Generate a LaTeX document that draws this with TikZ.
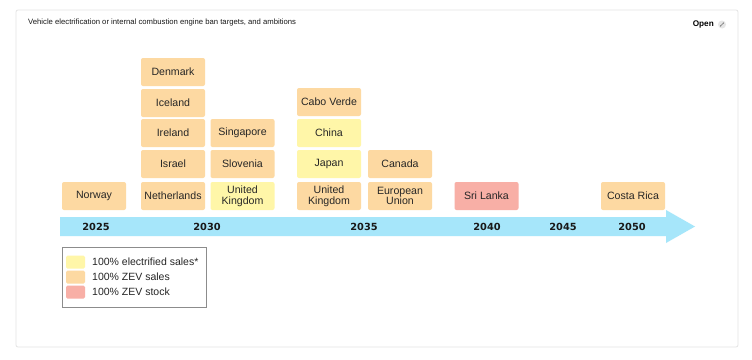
\documentclass[tikz,border=0pt]{standalone}
\usepackage{fontspec}
\setmainfont{Liberation Sans}
\newfontfamily\yearfont{DejaVu Sans}
\usetikzlibrary{arrows.meta}
\definecolor{zevsales}{HTML}{FDD9A2}
\definecolor{elecsales}{HTML}{FFF6A8}
\definecolor{zevstock}{HTML}{F8AFA6}
\definecolor{tlblue}{HTML}{A6E6FA}
\definecolor{cardline}{HTML}{E4E4E4}
\tikzset{
  cbox/.style={rectangle, rounded corners=2pt, minimum width=64pt, minimum height=28pt,
    inner sep=0pt, align=center, text=black!85, font=\fontsize{10.6}{10.7}\selectfont},
  orangebox/.style={cbox, fill=zevsales},
  yellowbox/.style={cbox, fill=elecsales},
  redbox/.style={cbox, fill=zevstock},
  yearlabel/.style={font=\yearfont\bfseries\fontsize{9.8}{12}\selectfont, text=black!90, inner sep=0pt},
  swatch/.style={rectangle, rounded corners=1.5pt, minimum width=19pt, minimum height=13pt, inner sep=0pt},
  legtext/.style={anchor=west, inner sep=0pt, font=\fontsize{10.5}{12}\selectfont, text=black!85}
}
\begin{document}
\begin{tikzpicture}[x=1pt,y=-1pt]
\useasboundingbox (0,0) rectangle (752,359);
\fill[white] (0,0) rectangle (752,359);
% card
\draw[cardline, line width=0.8pt, rounded corners=2pt] (16,10) rectangle (738,347);
% title
\node[anchor=west, inner sep=0pt, font=\fontsize{7.7}{9}\selectfont, text=black!90] (title) at (28,23)
  {Vehicle electrification or internal combustion engine ban targets, and ambitions};
\node[anchor=east, inner sep=0pt, font=\bfseries\fontsize{8.2}{9}\selectfont] (open) at (714,24.5) {Open};
\node[circle, fill=black!10, minimum size=8pt, inner sep=0pt] (openicon) at (722,24.5) {};
\draw[black!55, line width=0.5pt, {Stealth[length=1.3pt,width=1.3pt]}-{Stealth[length=1.3pt,width=1.3pt]}]
  ([shift={(-2,2)}]openicon.center) -- ([shift={(2,-2)}]openicon.center);
% timeline arrow
\fill[tlblue] (60,217) -- (666,217) -- (666,210) -- (695,226.5) -- (666,243) -- (666,236) -- (60,236) -- cycle;
\node[yearlabel] (y2025) at (96,226.5) {2025};
\node[yearlabel] (y2030) at (207,226.5) {2030};
\node[yearlabel] (y2035) at (364,226.5) {2035};
\node[yearlabel] (y2040) at (487,226.5) {2040};
\node[yearlabel] (y2045) at (563,226.5) {2045};
\node[yearlabel] (y2050) at (632,226.5) {2050};
% boxes
\node[orangebox] (norway) at (94,196) {Norway};
\node[orangebox] (netherlands) at (173,196) {Netherlands};
\node[orangebox] (israel) at (173,164) {Israel};
\node[orangebox] (ireland) at (173,133) {Ireland};
\node[orangebox] (iceland) at (173,103) {Iceland};
\node[orangebox] (denmark) at (173,72) {Denmark};
\node[yellowbox] (uka) at (242.5,196) {United\\Kingdom};
\node[orangebox] (slovenia) at (242.5,164) {Slovenia};
\node[orangebox] (singapore) at (242.5,133) {Singapore};
\node[orangebox] (ukb) at (329,196) {United\\Kingdom};
\node[yellowbox] (japan) at (329,164) {Japan};
\node[yellowbox] (china) at (329,133) {China};
\node[orangebox] (cabo) at (329,102) {Cabo Verde};
\node[orangebox] (eu) at (400,196) {European\\Union};
\node[orangebox] (canada) at (400,164) {Canada};
\node[redbox] (srilanka) at (486.5,196) {Sri Lanka};
\node[orangebox] (costarica) at (633,196) {Costa Rica};
% legend
\draw[black!45, line width=0.6pt] (62,247) rectangle (206,307);
\node[swatch, fill=elecsales] (sw1) at (75.5,262) {};
\node[swatch, fill=zevsales] (sw2) at (75.5,277) {};
\node[swatch, fill=zevstock] (sw3) at (75.5,292) {};
\node[legtext] (l1) at (92,262) {100\% electrified sales*};
\node[legtext] (l2) at (92,277) {100\% ZEV sales};
\node[legtext] (l3) at (92,292) {100\% ZEV stock};
\end{tikzpicture}
\end{document}
